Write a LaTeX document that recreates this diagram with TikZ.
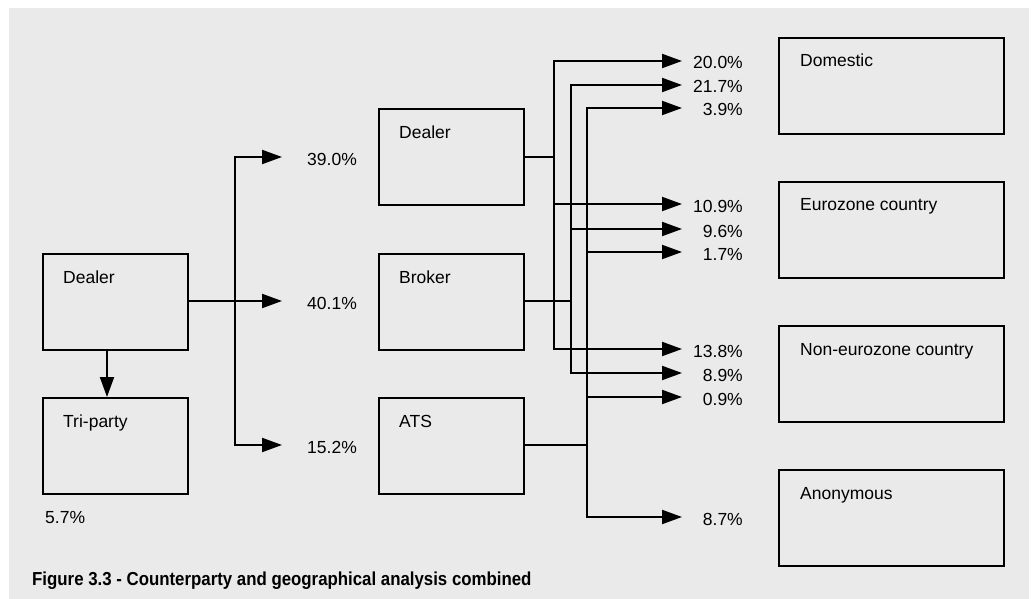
\documentclass[tikz,border=0pt]{standalone}
\usepackage{fontspec}
\setmainfont{Liberation Sans}
\usetikzlibrary{arrows.meta}
\definecolor{panel}{HTML}{EAEAEA}
\tikzset{
  box/.style={draw=black, line width=2pt, fill=panel, anchor=north west, inner sep=0pt},
  smallbox/.style={box, minimum width=145pt, minimum height=96pt},
  widebox/.style={box, minimum width=225pt, minimum height=96pt},
  boxtext/.style={anchor=base west, inner sep=0pt, font=\fontsize{17.5}{20}\selectfont},
  pct/.style={inner sep=0pt, font=\fontsize{17.5}{20}\selectfont},
  pctl/.style={pct, anchor=base west},
  pctr/.style={pct, anchor=base east},
  link/.style={line width=2pt},
  arr/.style={line width=2pt, -{Triangle[length=20pt, width=14pt]}},
}
\begin{document}
\begin{tikzpicture}[x=1pt, y=-1pt]
\useasboundingbox (0,0) rectangle (1031,599);
\fill[panel] (9,8) rectangle (1029,599);

% counterparty boxes
\node[smallbox] (dealerL) at (42,253) {};
\node[smallbox] (tri) at (42,397) {};
\node[smallbox] (dealerM) at (378,108) {};
\node[smallbox] (broker) at (378,253) {};
\node[smallbox] (ats) at (378,397) {};
% geographical boxes
\node[widebox] (dom) at (778,37) {};
\node[widebox] (euro) at (778,181) {};
\node[widebox] (noneuro) at (778,325) {};
\node[widebox] (anon) at (778,469) {};

% box captions
\node[boxtext] (dealerL-t) at (63,283) {Dealer};
\node[boxtext] (tri-t) at (63,427) {Tri-party};
\node[boxtext] (dealerM-t) at (399,139) {Dealer};
\node[boxtext] (broker-t) at (399,283) {Broker};
\node[boxtext] (ats-t) at (399,427) {ATS};
\node[boxtext] (dom-t) at (800,67) {Domestic};
\node[boxtext] (euro-t) at (800,211) {Eurozone country};
\node[boxtext] (noneuro-t) at (800,355) {Non-eurozone country};
\node[boxtext] (anon-t) at (800,499) {Anonymous};

% first split
\coordinate (sp) at (235,301);
\coordinate (a39) at (282,157);
\coordinate (a40) at (282,301);
\coordinate (a15) at (282,445);
\draw[arr] (dealerL.east |- sp) -- (a40);
\draw[arr] (sp) |- (a39);
\draw[arr] (sp) |- (a15);
\node[pctl] (p39) at (307,165) {39.0\%};
\node[pctl] (p40) at (307,309) {40.1\%};
\node[pctl] (p15) at (307,453) {15.2\%};

% tri-party
\coordinate (tp) at (107,397);
\draw[arr] (tp |- dealerL.south) -- (tp |- tri.north);
\node[pctl] (p57) at (45,523) {5.7\%};

% dealer branches
\coordinate (bD) at (554,157);
\coordinate (d1) at (682,61);
\coordinate (d2) at (682,204);
\coordinate (d3) at (682,349);
\draw[link] (dealerM.east |- bD) -- (bD);
\draw[arr] (bD) |- (d1);
\draw[arr] (bD) |- (d2);
\draw[arr] (bD) |- (d3);

% broker branches
\coordinate (bB) at (571,301);
\coordinate (b1) at (682,85);
\coordinate (b2) at (682,229);
\coordinate (b3) at (682,373);
\draw[link] (broker.east |- bB) -- (bB);
\draw[arr] (bB) |- (b1);
\draw[arr] (bB) |- (b2);
\draw[arr] (bB) |- (b3);

% ATS branches
\coordinate (bA) at (587,445);
\coordinate (t1) at (682,108);
\coordinate (t2) at (682,252);
\coordinate (t3) at (682,397);
\coordinate (t4) at (682,517);
\draw[link] (ats.east |- bA) -- (bA);
\draw[arr] (bA) |- (t1);
\draw[arr] (bA) |- (t2);
\draw[arr] (bA) |- (t3);
\draw[arr] (bA) |- (t4);

% shares by destination
\node[pctr] (q1) at (743,69) {20.0\%};
\node[pctr] (q2) at (743,93) {21.7\%};
\node[pctr] (q3) at (743,116) {3.9\%};
\node[pctr] (q4) at (743,212) {10.9\%};
\node[pctr] (q5) at (743,237) {9.6\%};
\node[pctr] (q6) at (743,260) {1.7\%};
\node[pctr] (q7) at (743,357) {13.8\%};
\node[pctr] (q8) at (743,381) {8.9\%};
\node[pctr] (q9) at (743,405) {0.9\%};
\node[pctr] (q10) at (743,525) {8.7\%};

% figure caption
\node[anchor=base west, inner sep=0pt] (caption) at (32,585)
  {\scalebox{0.895}[1]{\bfseries\fontsize{18.8}{22}\selectfont Figure 3.3 - Counterparty and geographical analysis combined}};
\end{tikzpicture}
\end{document}
